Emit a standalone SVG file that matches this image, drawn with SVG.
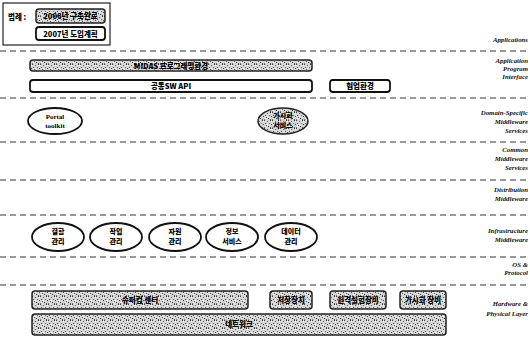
<svg xmlns="http://www.w3.org/2000/svg" width="530" height="343" viewBox="0 0 530 343">
<defs>
<pattern id="ht" width="8" height="8" patternUnits="userSpaceOnUse">
<rect width="8" height="8" fill="#d6d6d6"/>
<rect x="0" y="0" width="1" height="1" fill="#444"/>
<rect x="3" y="1" width="1" height="1" fill="#666"/>
<rect x="6" y="0" width="1" height="1" fill="#333"/>
<rect x="1" y="3" width="1" height="1" fill="#555"/>
<rect x="5" y="3" width="1" height="1" fill="#777"/>
<rect x="7" y="4" width="1" height="1" fill="#444"/>
<rect x="2" y="5" width="1" height="1" fill="#666"/>
<rect x="4" y="6" width="1" height="1" fill="#333"/>
<rect x="0" y="7" width="1" height="1" fill="#777"/>
<rect x="6" y="7" width="1" height="1" fill="#555"/>
<rect x="3" y="4" width="1" height="1" fill="#fff"/>
<rect x="7" y="1" width="1" height="1" fill="#fff"/>
<rect x="1" y="6" width="1" height="1" fill="#fff"/>
</pattern>
</defs>
<style>
.bx{fill:#fff;stroke:#111;stroke-width:1.8}
.hb{fill:url(#ht);stroke:#222;stroke-width:1.5}
.dl{stroke:#333;stroke-width:1;stroke-dasharray:6 4;fill:none}
.kt{font-family:"Noto Sans CJK KR",sans-serif;font-weight:900;font-size:7.5px;fill:#000;text-anchor:middle}
.k2{font-family:"Noto Sans CJK KR",sans-serif;font-weight:900;font-size:7px;fill:#000;text-anchor:middle}
.et{font-family:"Liberation Serif",serif;font-weight:bold;font-size:7px;fill:#000;text-anchor:middle}
.lb{font-family:"Liberation Serif",serif;font-style:italic;font-weight:bold;font-size:6.8px;fill:#111;text-anchor:end}
</style>
<rect width="530" height="343" fill="#fff"/>

<g id="legend">
<rect x="3" y="3" width="107" height="42" fill="#fff" stroke="#222" stroke-width="1.2"/>
<text x="8" y="20" class="kt" style="text-anchor:start">범례 :</text>
<rect x="36" y="9" width="69" height="14" rx="3" class="hb"/>
<text x="70.5" y="19" class="kt">2006년 구축완료</text>
<rect x="36" y="27" width="69" height="13" rx="3" class="bx"/>
<text x="70.5" y="36.5" class="kt">2007년 도입계획</text>
</g>

<g id="connectors">
<line x1="0" y1="51" x2="530" y2="51" class="dl"/>
<line x1="0" y1="98" x2="530" y2="98" class="dl"/>
<line x1="0" y1="142" x2="530" y2="142" class="dl"/>
<line x1="0" y1="180" x2="530" y2="180" class="dl"/>
<line x1="0" y1="215" x2="530" y2="215" class="dl"/>
<line x1="0" y1="257" x2="530" y2="257" class="dl"/>
<line x1="0" y1="285" x2="530" y2="285" class="dl"/>
</g>

<g id="layer-labels">
<text x="528" y="42" class="lb">Applications</text>
<text x="528" y="63" class="lb">Application</text>
<text x="528" y="71" class="lb">Program</text>
<text x="528" y="79" class="lb">Interface</text>
<text x="528" y="115" class="lb">Domain-Specific</text>
<text x="528" y="124" class="lb">Middleware</text>
<text x="528" y="133" class="lb">Services</text>
<text x="528" y="152" class="lb">Common</text>
<text x="528" y="161" class="lb">Middleware</text>
<text x="528" y="170" class="lb">Services</text>
<text x="528" y="192" class="lb">Distribution</text>
<text x="528" y="201" class="lb">Middleware</text>
<text x="528" y="233" class="lb">Infrastructure</text>
<text x="528" y="242" class="lb">Middleware</text>
<text x="528" y="267" class="lb">OS &amp;</text>
<text x="528" y="275" class="lb">Protocol</text>
<text x="528" y="306" class="lb">Hardware &amp;</text>
<text x="528" y="316" class="lb">Physical Layer</text>
</g>

<g id="midas">
<rect x="30" y="60" width="282" height="11" rx="3" class="hb"/>
<text x="171" y="68.5" class="kt">MIDAS 프로그래밍환경</text>
</g>
<g id="common-sw-api">
<rect x="30" y="80" width="282" height="12" rx="3" class="bx"/>
<text x="171" y="89" class="kt">공통SW API</text>
</g>
<g id="collab">
<rect x="330" y="80" width="60" height="12" rx="3" class="bx"/>
<text x="360" y="89" class="kt">협업환경</text>
</g>

<g id="portal">
<ellipse cx="55" cy="121" rx="27" ry="13" class="bx"/>
<text x="55" y="118.5" class="et">Portal</text>
<text x="55" y="128" class="et">toolkit</text>
</g>
<g id="vis-service">
<ellipse cx="283" cy="121" rx="25" ry="13" class="hb"/>
<text x="283" y="118" class="k2">가시화</text>
<text x="283" y="128" class="k2">서비스</text>
</g>

<g id="fault">
<ellipse cx="58" cy="237" rx="26" ry="14" class="bx"/>
<text x="58" y="234" class="k2">결함</text>
<text x="58" y="244" class="k2">관리</text>
</g>
<g id="job">
<ellipse cx="116" cy="237" rx="26" ry="14" class="bx"/>
<text x="116" y="234" class="k2">작업</text>
<text x="116" y="244" class="k2">관리</text>
</g>
<g id="resource">
<ellipse cx="175" cy="237" rx="26" ry="14" class="bx"/>
<text x="175" y="234" class="k2">자원</text>
<text x="175" y="244" class="k2">관리</text>
</g>
<g id="info">
<ellipse cx="232" cy="237" rx="26" ry="14" class="bx"/>
<text x="232" y="234" class="k2">정보</text>
<text x="232" y="244" class="k2">서비스</text>
</g>
<g id="data">
<ellipse cx="291" cy="237" rx="26" ry="14" class="bx"/>
<text x="291" y="234" class="k2">데이터</text>
<text x="291" y="244" class="k2">관리</text>
</g>

<g id="supercom">
<rect x="32" y="291" width="216" height="18" rx="3" class="hb"/>
<text x="140" y="302.5" class="kt">슈퍼컴 센터</text>
</g>
<g id="storage">
<rect x="270" y="291" width="42" height="18" rx="3" class="hb"/>
<text x="291" y="302.5" class="kt">저장장치</text>
</g>
<g id="remote-equip">
<rect x="330" y="291" width="56" height="18" rx="3" class="hb"/>
<text x="358" y="302.5" class="kt">원격실험장비</text>
</g>
<g id="vis-equip">
<rect x="400" y="291" width="46" height="18" rx="3" class="hb"/>
<text x="423" y="302.5" class="kt">가시화 장비</text>
</g>
<g id="network">
<rect x="32" y="314" width="414" height="21" rx="3" class="hb"/>
<text x="239" y="327" class="kt">네트워크</text>
</g>
</svg>
